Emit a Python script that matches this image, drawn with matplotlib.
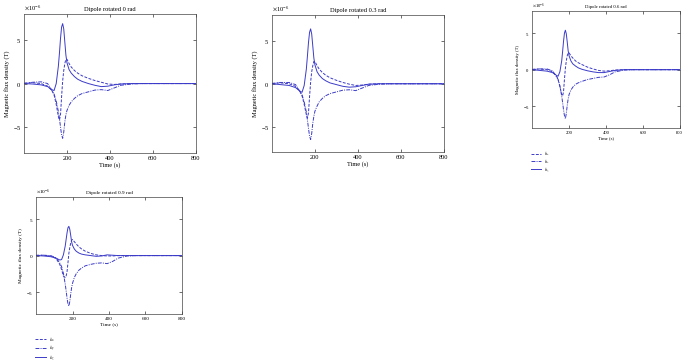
import numpy as np
import matplotlib
matplotlib.use("Agg")
import matplotlib.pyplot as plt
from matplotlib.ticker import ScalarFormatter

plt.rcParams['font.family'] = ['Liberation Serif', 'DejaVu Serif']
plt.rcParams['mathtext.fontset'] = 'stix'

# time samples (s)
t = [0, 40, 80, 110, 130, 140, 150, 160, 165, 170, 175, 180, 185, 190, 195, 200,
     210, 220, 235, 250, 270, 300, 330, 360, 390, 420, 450, 500, 550, 600, 700, 800]

titles = ['Dipole rotated 0 rad', 'Dipole rotated 0.3 rad',
          'Dipole rotated 0.6 rad', 'Dipole rotated 0.9 rad']
labels = ['$h_x$', '$h_y$', '$h_z$']

# values in units of 1e-6 T
hx_0 = [0.05, 0.1, 0.0, -0.3, -0.8, -1.3, -2.4, -3.8, -4.2, -3.6, -1.5, 0.3, 1.5, 2.3, 2.8, 2.8,
        2.3, 1.9, 1.5, 1.2, 0.9, 0.6, 0.35, 0.15, -0.05, -0.1, -0.05, 0, 0, 0, 0, 0]
hy_0 = [0.0, 0.15, 0.2, 0.0, -0.8, -1.2, -2.0, -3.2, -4.0, -5.0, -5.9, -6.3, -5.6, -4.4, -3.6, -3.1,
        -2.5, -2.1, -1.7, -1.4, -1.15, -0.95, -0.75, -0.7, -0.8, -0.5, -0.2, -0.05, 0, 0, 0, 0]
hz_0 = [0, -0.05, -0.15, -0.35, -0.7, -0.8, 0.0, 2.0, 3.5, 5.2, 6.5, 6.9, 6.3, 4.8, 3.3, 2.4,
        1.6, 1.2, 0.8, 0.5, 0.25, 0.0, -0.2, -0.35, -0.3, -0.15, -0.05, 0, 0, 0, 0, 0]

hx_3 = [0.05, 0.1, 0.0, -0.3, -0.9, -1.4, -2.4, -3.6, -4.0, -3.4, -1.5, 0.2, 1.4, 2.1, 2.6, 2.6,
        2.1, 1.7, 1.3, 1.0, 0.7, 0.4, 0.15, -0.05, -0.2, -0.15, -0.05, 0, 0, 0, 0, 0]
hy_3 = [0.0, 0.15, 0.15, -0.1, -0.9, -1.3, -2.1, -3.3, -4.2, -5.2, -6.1, -6.5, -5.8, -4.6, -3.8, -3.2,
        -2.6, -2.1, -1.7, -1.4, -1.15, -0.95, -0.75, -0.7, -0.8, -0.5, -0.2, -0.05, 0, 0, 0, 0]
hz_3 = [0, -0.1, -0.2, -0.45, -0.85, -1.0, -0.2, 1.7, 3.2, 4.8, 6.0, 6.4, 5.8, 4.4, 3.0, 2.2,
        1.4, 1.0, 0.6, 0.35, 0.1, -0.1, -0.3, -0.4, -0.35, -0.2, -0.05, 0, 0, 0, 0, 0]

hx_6 = [0.05, 0.1, 0.0, -0.3, -0.8, -1.3, -2.3, -3.4, -3.6, -3.0, -1.3, 0.2, 1.2, 1.9, 2.3, 2.3,
        1.9, 1.6, 1.2, 0.95, 0.7, 0.35, 0.1, -0.1, -0.2, -0.15, -0.05, 0, 0, 0, 0, 0]
hy_6 = [0.0, 0.1, 0.1, -0.15, -0.9, -1.3, -2.2, -3.6, -4.5, -5.5, -6.3, -6.7, -6.0, -4.9, -4.0, -3.4,
        -2.8, -2.4, -2.0, -1.8, -1.6, -1.35, -1.2, -1.05, -1.0, -0.7, -0.3, -0.05, 0, 0, 0, 0]
hz_6 = [0, -0.1, -0.2, -0.4, -0.75, -0.9, -0.3, 1.2, 2.5, 3.9, 5.0, 5.4, 4.9, 3.8, 2.6, 1.9,
        1.2, 0.8, 0.5, 0.25, 0.05, -0.15, -0.3, -0.4, -0.4, -0.25, -0.1, 0, 0, 0, 0, 0]

hx_9 = [0.05, 0.05, -0.05, -0.4, -1.2, -1.9, -2.8, -3.0, -2.8, -2.2, -1.0, 0.3, 1.1, 1.7, 2.1, 2.2,
        1.9, 1.6, 1.2, 0.9, 0.6, 0.3, 0.1, 0.0, -0.05, -0.05, 0, 0, 0, 0, 0, 0]
hy_9 = [0.0, 0.05, 0.0, -0.3, -1.0, -1.5, -2.4, -3.9, -4.8, -5.8, -6.6, -6.9, -6.3, -5.3, -4.4, -3.8,
        -3.0, -2.5, -2.0, -1.7, -1.4, -1.2, -1.05, -1.0, -1.1, -0.8, -0.35, -0.05, 0, 0, 0, 0]
hz_9 = [0, -0.05, -0.15, -0.35, -0.6, -0.55, 0.1, 1.3, 2.2, 3.1, 3.8, 4.0, 3.6, 2.8, 1.9, 1.4,
        0.9, 0.6, 0.35, 0.2, 0.1, 0.0, -0.1, -0.05, 0.1, 0.05, 0, 0, 0, 0, 0, 0]

series = [(hx_0, hy_0, hz_0), (hx_3, hy_3, hz_3), (hx_6, hy_6, hz_6), (hx_9, hy_9, hz_9)]

# axes boxes in figure fractions
boxes = [[0.035, 0.576, 0.251, 0.385],
         [0.397, 0.578, 0.251, 0.380],
         [0.777, 0.645, 0.215, 0.324],
         [0.0526, 0.130, 0.213, 0.324]]
fsizes = [4.6, 4.6, 3.4, 3.8]
has_legend = [False, False, True, True]

color = '#3b3bc8'
styles = [(0, (3, 1.5)), (0, (4, 1.2, 1, 1.2)), '-']

fig = plt.figure(figsize=(6.85, 3.61), dpi=100)
for i in range(4):
    ax = fig.add_axes(boxes[i])
    fs = fsizes[i]
    lines = []
    for comp, ls, lab in zip(series[i], styles, labels):
        l, = ax.plot(t, np.array(comp) * 1e-6, color=color, lw=0.7, ls=ls, label=lab)
        lines.append(l)
    ax.set_xlim(0, 800)
    ax.set_ylim(-8e-6, 8e-6)
    ax.set_xticks([200, 400, 600, 800])
    ax.set_yticks([-5e-6, 0, 5e-6])
    fmt = ScalarFormatter(useMathText=True)
    fmt.set_powerlimits((0, 0))
    ax.yaxis.set_major_formatter(fmt)
    ax.yaxis.get_offset_text().set_fontsize(fs)
    ax.tick_params(direction='in', top=True, right=True, length=2, width=0.4,
                   labelsize=fs, pad=2)
    for s in ax.spines.values():
        s.set_linewidth(0.5)
        s.set_color('#444444')
    ax.set_title(titles[i], fontsize=fs, pad=2)
    ax.set_xlabel('Time (s)', fontsize=fs, labelpad=1)
    ax.set_ylabel('Magnetic flux density (T)', fontsize=fs, labelpad=2)
    if has_legend[i]:
        ax.legend(handles=lines, loc='upper left', bbox_to_anchor=(-0.01, -0.18),
                  frameon=False, fontsize=fs, handlelength=2.2, labelspacing=-0.1,
                  handletextpad=0.5, borderaxespad=0, borderpad=0)

fig.savefig('out.png', dpi=100)
